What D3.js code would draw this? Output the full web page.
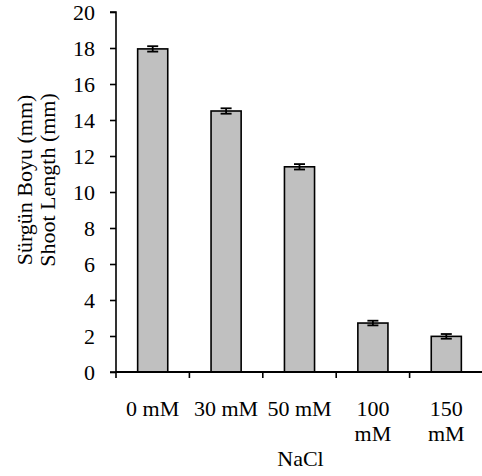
<!DOCTYPE html>
<html>
<head>
<meta charset="utf-8">
<script src="https://cdn.jsdelivr.net/npm/d3@7"></script>
<style>
  body { margin: 0; background: #fff; }
  text { font-family: "Liberation Serif", "Times New Roman", serif; fill: #000; }
</style>
</head>
<body>
<div id="chart"></div>
<script>
// data
let categories = ["0 mM", "30 mM", "50 mM", "100 mM", "150 mM"]
let shootLength = [17.95, 14.5, 11.4, 2.72, 1.98]
let errors = [0.15, 0.15, 0.15, 0.13, 0.13]
let yTicks = [0, 2, 4, 6, 8, 10, 12, 14, 16, 18, 20]
let yTitle = ["Sürgün Boyu (mm)", "Shoot Length (mm)"]
let xTitle = "NaCl"

let W = 482, H = 476
let margin = {top: 12, right: 0, bottom: 104, left: 116}
let fontSize = "22px"

let svg = d3.select("#chart").append("svg")
    .attr("width", W)
    .attr("height", H)

let x = d3.scaleBand()
    .domain(categories)
    .range([margin.left, W - margin.right + 1])
    .paddingInner(0.59)
    .paddingOuter(0.295)

let y = d3.scaleLinear()
    .domain([0, 20])
    .range([H - margin.bottom, margin.top])

// bars
svg.selectAll(".bar")
    .data(categories)
    .enter().append("rect")
    .attr("class", "bar")
    .attr("x", d => x(d))
    .attr("y", (d, i) => y(shootLength[i]))
    .attr("width", x.bandwidth())
    .attr("height", (d, i) => y(0) - y(shootLength[i]))
    .attr("fill", "#c0c0c0")
    .attr("stroke", "#000")
    .attr("stroke-width", 1.6)

// error bars
let eb = svg.selectAll(".err")
    .data(categories)
    .enter().append("g")
    .attr("class", "err")
    .attr("stroke", "#000")
    .attr("stroke-width", 1.8)
eb.append("line")
    .attr("x1", d => x(d) + x.bandwidth() / 2)
    .attr("x2", d => x(d) + x.bandwidth() / 2)
    .attr("y1", (d, i) => y(shootLength[i] + errors[i]))
    .attr("y2", (d, i) => y(shootLength[i] - errors[i]))
eb.selectAll(".cap")
    .data((d, i) => [[d, shootLength[i] + errors[i]], [d, shootLength[i] - errors[i]]])
    .enter().append("line")
    .attr("class", "cap")
    .attr("x1", d => x(d[0]) + x.bandwidth() / 2 - 5.5)
    .attr("x2", d => x(d[0]) + x.bandwidth() / 2 + 5.5)
    .attr("y1", d => y(d[1]))
    .attr("y2", d => y(d[1]))

// y axis
let yAxis = d3.axisLeft(y)
    .tickValues(yTicks)
    .tickSize(6)
    .tickPadding(15)
svg.append("g")
    .attr("class", "y-axis")
    .attr("transform", `translate(${margin.left},0)`)
    .call(yAxis)
    .call(g => g.selectAll("text").style("font-size", fontSize).attr("dy", "0.33em"))
    .call(g => g.selectAll("line,path").attr("stroke", "#000").attr("stroke-width", 1.6))
    .call(g => g.select(".domain").attr("d", `M-6,${y(20)}H0V${y(0)}H-6`))

// x axis: line with ticks at band boundaries
let xg = svg.append("g").attr("class", "x-axis")
xg.append("line")
    .attr("x1", margin.left).attr("x2", W)
    .attr("y1", y(0)).attr("y2", y(0))
    .attr("stroke", "#000").attr("stroke-width", 1.8)
let step = x.step()
xg.selectAll(".tick")
    .data(categories)
    .enter().append("line")
    .attr("class", "tick")
    .attr("x1", d => x(d) - x.paddingOuter() * step)
    .attr("x2", d => x(d) - x.paddingOuter() * step)
    .attr("y1", y(0))
    .attr("y2", y(0) + 6)
    .attr("stroke", "#000").attr("stroke-width", 1.6)

// x labels, wrapped when wider than a band
let labels = xg.selectAll(".xlabel")
    .data(categories)
    .enter().append("text")
    .attr("class", "xlabel")
    .attr("text-anchor", "middle")
    .style("font-size", fontSize)
    .attr("x", d => x(d) + x.bandwidth() / 2)
    .attr("y", y(0) + 44)
    .text(d => d)
labels.each(function(d) {
    let t = d3.select(this)
    if (this.getComputedTextLength() > step - 2) {
        let parts = d.split(" ")
        t.text(null)
        parts.forEach((p, i) => {
            t.append("tspan")
                .attr("x", x(d) + x.bandwidth() / 2)
                .attr("dy", i === 0 ? 0 : 24.5)
                .text(p)
        })
    }
})

svg.append("text")
    .attr("text-anchor", "middle")
    .style("font-size", fontSize)
    .attr("x", x(categories[2]) + x.bandwidth() / 2 + 1)
    .attr("y", y(0) + 94)
    .text(xTitle)

// y title, two lines rotated
let yt = svg.append("text")
    .attr("text-anchor", "middle")
    .style("font-size", fontSize)
    .attr("transform", `translate(32,180) rotate(-90)`)
yTitle.forEach((s, i) => {
    yt.append("tspan")
        .attr("x", 0)
        .attr("dy", i === 0 ? 0 : 23)
        .text(s)
})
</script>
</body>
</html>
